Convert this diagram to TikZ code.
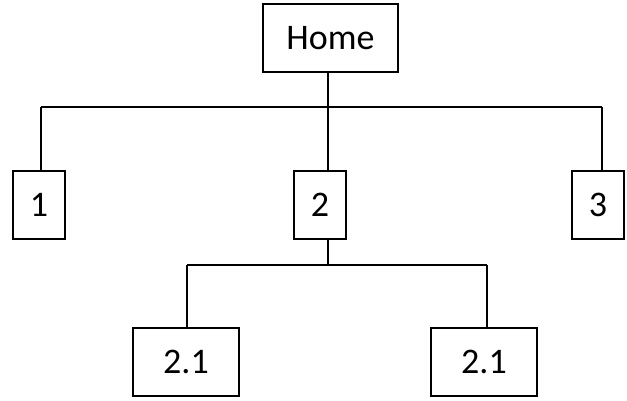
\documentclass[tikz,border=0pt]{standalone}
\usepackage{fontspec}
\setmainfont{Carlito}
\begin{document}
\begin{tikzpicture}[x=1pt,y=-1pt,
  box/.style={draw, line width=1.5pt, inner sep=0pt, minimum height=68pt, font=\fontsize{36}{40}\selectfont},
  conn/.style={line width=1.5pt}]
\useasboundingbox (0,0) rectangle (627,401);
\node[box, minimum width=135pt] (home) at (330.5,38) {Home};
\node[box, minimum width=52pt] (b1) at (39,205) {1};
\node[box, minimum width=52pt] (b2) at (320,205) {2};
\node[box, minimum width=52pt] (b3) at (598,205) {3};
\node[box, minimum width=106pt] (c1) at (186,362) {2.1};
\node[box, minimum width=106pt] (c2) at (484,362) {2.1};
\coordinate (jt) at (328,107);
\coordinate (j1) at (41,107);
\coordinate (j3) at (602,107);
\coordinate (jm) at (328,265);
\coordinate (k1) at (187,265);
\coordinate (k2) at (487,265);
\draw[conn] (jt |- home.south) -- (jt);
\draw[conn] (j1) -- (j3);
\draw[conn] (j1) -- (j1 |- b1.north);
\draw[conn] (jt) -- (jt |- b2.north);
\draw[conn] (j3) -- (j3 |- b3.north);
\draw[conn] (jm |- b2.south) -- (jm);
\draw[conn] (k1) -- (k2);
\draw[conn] (k1) -- (k1 |- c1.north);
\draw[conn] (k2) -- (k2 |- c2.north);
\end{tikzpicture}
\end{document}
